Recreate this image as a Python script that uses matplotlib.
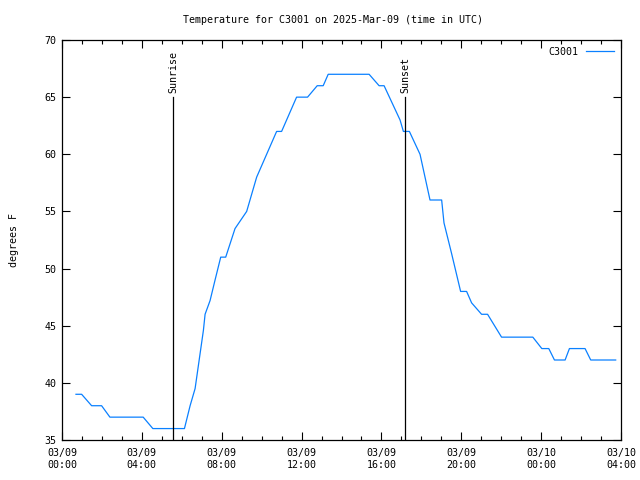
import pandas as pd
import matplotlib
matplotlib.use('Agg')
import matplotlib.pyplot as plt
import matplotlib.dates as mdates

# readings (UTC)
times = ['2025-03-09 00:42', '2025-03-09 00:59', '2025-03-09 01:29', '2025-03-09 01:59',
         '2025-03-09 02:24', '2025-03-09 04:04', '2025-03-09 04:33', '2025-03-09 06:08',
         '2025-03-09 06:25', '2025-03-09 06:40', '2025-03-09 07:05', '2025-03-09 07:10',
         '2025-03-09 07:25', '2025-03-09 07:40', '2025-03-09 07:57', '2025-03-09 08:12',
         '2025-03-09 08:40', '2025-03-09 09:15', '2025-03-09 09:45', '2025-03-09 10:45',
         '2025-03-09 11:00', '2025-03-09 11:45', '2025-03-09 12:18', '2025-03-09 12:47',
         '2025-03-09 13:05', '2025-03-09 13:20', '2025-03-09 15:23', '2025-03-09 15:53',
         '2025-03-09 16:08', '2025-03-09 16:56', '2025-03-09 17:06', '2025-03-09 17:24',
         '2025-03-09 17:56', '2025-03-09 18:26', '2025-03-09 19:01', '2025-03-09 19:08',
         '2025-03-09 19:31', '2025-03-09 19:58', '2025-03-09 20:16', '2025-03-09 20:31',
         '2025-03-09 21:01', '2025-03-09 21:19', '2025-03-09 22:01', '2025-03-09 23:35',
         '2025-03-10 00:02', '2025-03-10 00:23', '2025-03-10 00:40', '2025-03-10 01:12',
         '2025-03-10 01:25', '2025-03-10 02:12', '2025-03-10 02:29', '2025-03-10 03:44']
temps = [39, 39, 38, 38,
         37, 37, 36, 36,
         38, 39.5, 44.6, 46,
         47.2, 49, 51, 51,
         53.5, 55, 58, 62,
         62, 65, 65, 66,
         66, 67, 67, 66,
         66, 63, 62, 62,
         60, 56, 56, 54,
         51.3, 48, 48, 47,
         46, 46, 44, 44,
         43, 43, 42, 42,
         43, 43, 42, 42]

sunrise = '2025-03-09 05:34'
sunset = '2025-03-09 17:11'
station = 'C3001'
title = 'Temperature for C3001 on 2025-Mar-09 (time in UTC)'

plt.rcParams['font.family'] = ['DejaVu Sans Mono']
plt.rcParams['font.size'] = 7.2

t = pd.to_datetime(times)
fig = plt.figure(figsize=(6.4, 4.8), dpi=100)
ax = fig.add_axes([62/640, 40/480, 559/640, 400/480])

ax.plot(t, temps, color='#0a80ff', lw=0.9, label=station)

for when, name in [(sunrise, 'Sunrise'), (sunset, 'Sunset')]:
    x = pd.Timestamp(when)
    ax.plot([x, x], [35, 65], color='black', lw=0.9)
    ax.text(x, 65.4, name, rotation=90, ha='center', va='bottom')

ax.set_xlim(pd.Timestamp('2025-03-09 00:00'), pd.Timestamp('2025-03-10 04:00'))
ax.set_ylim(35, 70)
ax.set_yticks(range(35, 71, 5))
ax.xaxis.set_major_locator(mdates.HourLocator(byhour=range(0, 24, 4)))
ax.xaxis.set_minor_locator(mdates.HourLocator())
ax.xaxis.set_major_formatter(mdates.DateFormatter('%m/%d\n%H:%M'))
ax.tick_params(which='both', direction='in', top=True, right=True, width=0.8)
ax.tick_params(which='major', length=6, pad=6)
ax.tick_params(which='minor', length=3)
ax.tick_params(axis='y', pad=4)
for s in ax.spines.values():
    s.set_linewidth(0.9)

ax.set_ylabel('degrees F', labelpad=18)
ax.set_title(title, pad=12, fontsize=7.2, x=0.485)
leg = ax.legend(loc='upper right', frameon=False, markerfirst=False,
                handlelength=2.8, borderaxespad=0.3)

fig.savefig('out.png', dpi=100)
